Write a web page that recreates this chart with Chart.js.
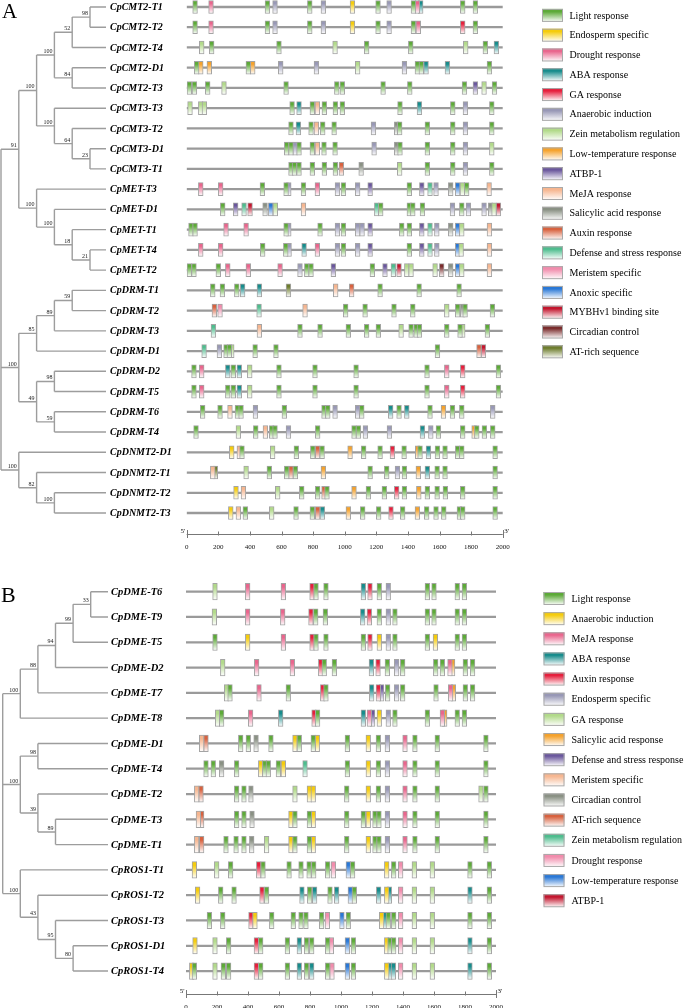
<!DOCTYPE html>
<html>
<head>
<meta charset="utf-8">
<script src="https://cdn.jsdelivr.net/npm/chart.js@4.4.1/dist/chart.umd.min.js"></script>
<style>
html, body { margin: 0; padding: 0; background: #fff; }
#wrap { position: relative; width: 685px; height: 1008px; overflow: hidden; }
canvas { position: absolute; left: 0; }
#chartA { top: 0; }
#chartB { top: 560px; }
</style>
</head>
<body>
<div id="wrap">
  <canvas id="chartA" width="685" height="560"></canvas>
  <canvas id="chartB" width="685" height="448"></canvas>
</div>
<script>
// promoter length and the scale ticks (bp)
const seqLen = 2000;
const tickVals = [0, 200, 400, 600, 800, 1000, 1200, 1400, 1600, 1800, 2000];
const boxBp = 30; // width of one cis-element box in bp

// ---- panel A ----
const genesA = ['CpCMT2-T1', 'CpCMT2-T2', 'CpCMT2-T4', 'CpCMT2-D1', 'CpCMT2-T3', 'CpCMT3-T3', 'CpCMT3-T2',
  'CpCMT3-D1', 'CpCMT3-T1', 'CpMET-T3', 'CpMET-D1', 'CpMET-T1', 'CpMET-T4', 'CpMET-T2', 'CpDRM-T1',
  'CpDRM-T2', 'CpDRM-T3', 'CpDRM-D1', 'CpDRM-D2', 'CpDRM-T5', 'CpDRM-T6', 'CpDRM-T4', 'CpDNMT2-D1',
  'CpDNMT2-T1', 'CpDNMT2-T2', 'CpDNMT2-T3'];

const typesA = ['Light response', 'Endosperm specific', 'Drought response', 'ABA response', 'GA response',
  'Anaerobic induction', 'Zein metabolism regulation', 'Low-temperature response', 'ATBP-1', 'MeJA response',
  'Salicylic acid response', 'Auxin response', 'Defense and stress response', 'Meristem specific',
  'Anoxic specific', 'MYBHv1 binding site', 'Circadian control', 'AT-rich sequence'];

// [position bp, element type index] per gene, same order as genesA
const sitesA = [
  [[53,0],[154,2],[511,0],[559,5],[779,0],[865,5],[1049,1],[1211,0],[1281,5],[1435,0],[1460,2],[1481,3],[1747,0],[1827,0]],
  [[53,0],[154,2],[511,0],[559,5],[779,0],[865,5],[1049,1],[1211,0],[1281,5],[1435,0],[1466,2],[1747,4],[1827,0]],
  [[95,6],[158,0],[584,0],[939,6],[1139,0],[1418,0],[1766,6],[1890,0],[1960,3]],
  [[63,0],[89,7],[143,7],[390,0],[418,7],[595,5],[821,5],[1082,6],[1378,5],[1460,0],[1485,0],[1515,3],[1650,3],[1916,0]],
  [[17,0],[49,0],[133,0],[236,6],[629,0],[950,0],[985,0],[1243,0],[1412,0],[1758,0],[1827,8],[1882,6],[1948,0]],
  [[21,6],[89,6],[112,6],[667,0],[711,3],[795,0],[827,9],[871,0],[941,0],[985,0],[1350,0],[1473,3],[1684,0],[1764,5],[1931,0]],
  [[660,0],[707,3],[787,0],[821,9],[861,0],[933,0],[1182,5],[1329,10],[1348,0],[1523,0],[1684,0],[1764,5],[1931,0]],
  [[633,0],[660,0],[686,5],[711,0],[795,0],[827,9],[869,0],[939,0],[1186,5],[1329,10],[1350,0],[1523,0],[1684,0],[1764,5],[1931,6]],
  [[660,0],[682,0],[711,0],[795,0],[871,0],[941,0],[979,11],[1104,10],[1348,6],[1523,0],[1684,0],[1764,5],[1931,0]],
  [[89,2],[215,2],[479,0],[629,0],[646,5],[739,0],[827,2],[954,5],[992,0],[1082,5],[1161,8],[1409,0],[1488,8],[1540,12],[1578,5],[1671,10],[1715,14],[1745,6],[1772,0],[1914,9]],
  [[228,0],[310,8],[363,12],[401,15],[496,10],[532,14],[561,6],[739,9],[1203,12],[1228,0],[1409,0],[1431,0],[1492,0],[1682,5],[1741,0],[1783,5],[1882,5],[1924,10],[1945,6],[1973,15]],
  [[27,0],[53,0],[249,2],[376,2],[629,0],[646,5],[844,0],[954,5],[992,0],[1082,5],[1110,5],[1161,8],[1361,0],[1409,0],[1488,8],[1540,12],[1583,5],[1671,10],[1715,14],[1741,6],[1916,9]],
  [[89,2],[215,2],[481,0],[627,0],[648,5],[743,3],[827,2],[954,5],[992,0],[1082,5],[1161,8],[1409,0],[1488,8],[1540,12],[1583,5],[1715,14],[1737,6],[1916,9]],
  [[17,0],[46,0],[200,0],[260,2],[390,2],[591,2],[717,5],[760,0],[787,0],[928,8],[1175,0],[1255,8],[1308,12],[1344,15],[1393,6],[1420,6],[1572,6],[1614,16],[1671,10],[1715,14],[1741,6],[1916,9]],
  [[165,0],[226,0],[317,0],[354,3],[460,3],[644,17],[943,9],[1044,11],[1224,0],[1471,0],[1724,0]],
  [[175,11],[211,13],[458,12],[749,9],[1006,0],[1129,0],[1312,0],[1431,0],[1646,6],[1715,0],[1747,10],[1762,0],[1935,0]],
  [[169,12],[460,9],[717,0],[844,0],[1023,0],[1139,0],[1213,0],[1357,6],[1420,0],[1452,0],[1473,0],[1646,0],[1730,0],[1747,6],[1903,0]],
  [[110,12],[207,5],[249,0],[270,0],[285,6],[433,0],[565,0],[1587,0],[1850,11],[1878,15]],
  [[46,0],[95,2],[260,3],[295,0],[333,3],[399,6],[584,0],[812,0],[1072,0],[1521,0],[1646,2],[1747,4],[1973,0]],
  [[46,0],[95,2],[260,0],[295,0],[333,3],[399,6],[584,0],[812,0],[1072,0],[1521,0],[1646,2],[1747,4],[1973,0]],
  [[101,0],[211,0],[274,9],[321,0],[344,0],[435,5],[618,0],[869,0],[893,0],[939,5],[1082,5],[1108,0],[1291,3],[1344,0],[1393,3],[1540,0],[1625,7],[1682,0],[1741,0],[1937,5]],
  [[59,0],[327,6],[437,0],[498,9],[538,0],[559,0],[644,5],[829,0],[1059,0],[1087,0],[1131,5],[1283,5],[1492,3],[1545,5],[1593,0],[1747,0],[1819,7],[1836,0],[1884,0],[1937,0]],
  [[285,1],[333,9],[350,0],[544,6],[694,0],[798,0],[829,11],[857,0],[1034,7],[1120,0],[1224,0],[1302,4],[1376,0],[1462,7],[1477,0],[1530,3],[1587,0],[1635,0],[1715,0],[1741,0],[1952,0]],
  [[165,9],[181,17],[376,6],[523,0],[633,0],[660,11],[688,0],[865,7],[1161,0],[1266,0],[1334,5],[1378,0],[1466,7],[1523,3],[1585,0],[1635,0],[1952,0]],
  [[312,1],[359,9],[576,6],[728,0],[829,0],[869,11],[888,0],[1059,7],[1150,0],[1251,0],[1329,4],[1378,0],[1469,7],[1523,0],[1585,0],[1637,0],[1747,0],[1952,0]],
  [[279,1],[327,9],[371,0],[538,6],[692,0],[795,0],[829,11],[859,3],[1023,7],[1114,0],[1215,0],[1293,4],[1367,0],[1460,7],[1519,0],[1578,0],[1627,0],[1726,0],[1747,0],[1952,0]]
];

// tree: [child, child, ..., bootstrap]; leaves are gene names
const treeA = [
  [
    [
      [[['CpCMT2-T1', 'CpCMT2-T2', 98], 'CpCMT2-T4', 52], ['CpCMT2-D1', 'CpCMT2-T3', 84], 100],
      ['CpCMT3-T3', ['CpCMT3-T2', ['CpCMT3-D1', 'CpCMT3-T1', 23], 64], 100],
      100
    ],
    ['CpMET-T3', ['CpMET-D1', ['CpMET-T1', ['CpMET-T4', 'CpMET-T2', 21], 18], 100], 100],
    91
  ],
  [
    [[['CpDRM-T1', 'CpDRM-T2', 59], 'CpDRM-T3', 89], 'CpDRM-D1', 85],
    [['CpDRM-D2', 'CpDRM-T5', 98], ['CpDRM-T6', 'CpDRM-T4', 59], 49],
    100
  ],
  ['CpDNMT2-D1', ['CpDNMT2-T1', ['CpDNMT2-T2', 'CpDNMT2-T3', 100], 82], 100],
  null
];

// ---- panel B ----
const genesB = ['CpDME-T6', 'CpDME-T9', 'CpDME-T5', 'CpDME-D2', 'CpDME-T7', 'CpDME-T8', 'CpDME-D1', 'CpDME-T4',
  'CpDME-T2', 'CpDME-T3', 'CpDME-T1', 'CpROS1-T1', 'CpROS1-T2', 'CpROS1-T3', 'CpROS1-D1', 'CpROS1-T4'];

const typesB = ['Light response', 'Anaerobic induction', 'MeJA response', 'ABA response', 'Auxin response',
  'Endosperm specific', 'GA response', 'Salicylic acid response', 'Defense and stress response',
  'Meristem specific', 'Circadian control', 'AT-rich sequence', 'Zein metabolism regulation',
  'Drought response', 'Low-temperature response', 'ATBP-1'];

const sitesB = [
  [[187,6],[398,2],[628,2],[813,4],[839,0],[903,0],[1144,3],[1187,4],[1247,0],[1305,5],[1557,0],[1600,0],[1750,0],[1796,0]],
  [[183,6],[398,2],[624,2],[806,4],[837,0],[899,0],[1140,3],[1183,4],[1247,0],[1305,5],[1348,0],[1557,0],[1600,0],[1750,0],[1796,0]],
  [[187,0],[398,1],[628,2],[813,4],[839,0],[903,0],[1144,0],[1187,4],[1247,1],[1305,5],[1348,0],[1557,0],[1609,1],[1750,0],[1796,0]],
  [[237,6],[456,2],[686,2],[869,4],[892,0],[957,0],[1196,3],[1239,4],[1299,0],[1359,5],[1398,0],[1611,0],[1654,0],[1703,2],[1720,7],[1802,0],[1849,0]],
  [[262,6],[284,0],[471,2],[660,0],[882,4],[903,0],[1198,3],[1241,4],[1262,8],[1301,0],[1359,5],[1398,0],[1613,0],[1707,2],[1725,7],[1802,0],[1849,0]],
  [[204,6],[230,0],[417,2],[611,3],[826,4],[849,0],[1144,3],[1183,2],[1204,8],[1247,1],[1305,5],[1348,0],[1557,0],[1654,2],[1669,7],[1750,0],[1796,0]],
  [[101,9],[129,11],[353,0],[402,0],[452,10],[548,0],[703,1],[731,0],[821,0],[847,1],[1041,0],[1176,1],[1241,0],[1299,5],[1413,2],[1477,0],[1621,0],[1935,0]],
  [[129,0],[176,0],[230,10],[327,0],[482,1],[508,0],[531,0],[596,0],[628,1],[768,12],[1041,0],[1176,1],[1241,0],[1299,5],[1413,2],[1477,0],[1621,0],[1935,0]],
  [[69,9],[97,11],[327,0],[374,0],[419,10],[703,6],[796,1],[821,1],[1037,0],[1176,1],[1241,0],[1299,5],[1413,2],[1477,0],[1621,0],[1903,6],[1935,0]],
  [[80,9],[101,11],[327,0],[374,0],[426,10],[677,1],[703,0],[796,0],[821,1],[1037,0],[1144,0],[1176,1],[1219,0],[1245,0],[1299,5],[1413,2],[1477,0],[1621,0],[1935,0]],
  [[69,9],[101,11],[258,0],[323,0],[374,0],[424,10],[520,6],[677,1],[703,0],[796,0],[821,1],[1037,0],[1176,1],[1219,0],[1245,0],[1299,5],[1413,2],[1477,0],[1621,0],[1935,0]],
  [[54,1],[198,6],[288,0],[469,4],[497,0],[665,0],[742,0],[794,0],[824,0],[914,0],[951,13],[1047,14],[1075,0],[1295,1],[1340,0],[1385,13],[1473,6],[1589,6],[1832,0],[1957,0]],
  [[75,1],[224,0],[310,0],[490,4],[520,0],[748,3],[798,0],[830,3],[929,0],[972,3],[1060,14],[1086,0],[1243,3],[1295,1],[1312,3],[1385,13],[1473,6],[1589,6],[1832,3],[1957,0]],
  [[151,0],[237,0],[419,4],[445,1],[553,0],[692,0],[742,0],[774,0],[875,0],[912,13],[1006,14],[1047,0],[1262,1],[1284,3],[1305,0],[1340,0],[1385,13],[1473,6],[1589,6],[1832,0],[1957,0]],
  [[58,1],[187,6],[275,0],[454,4],[482,0],[654,0],[731,3],[778,0],[811,0],[914,0],[938,13],[1041,14],[1080,0],[1295,1],[1316,0],[1340,0],[1385,13],[1473,6],[1589,6],[1832,3],[1957,0]],
  [[37,1],[54,0],[187,6],[241,0],[275,0],[454,4],[482,0],[654,0],[731,3],[778,0],[811,3],[914,0],[942,13],[1041,14],[1080,0],[1295,1],[1316,3],[1338,3],[1385,13],[1473,6],[1589,6],[1832,3],[1957,0]]
];

const treeB = [
  [[[[['CpDME-T6', 'CpDME-T9', 33], 'CpDME-T5', 99], 'CpDME-D2', 94], 'CpDME-T7', 88], 'CpDME-T8', 100],
  [['CpDME-D1', 'CpDME-T4', 98], ['CpDME-T2', ['CpDME-T3', 'CpDME-T1', 89], 39], 100],
  ['CpROS1-T1', ['CpROS1-T2', ['CpROS1-T3', ['CpROS1-D1', 'CpROS1-T4', 80], 95], 43], 100],
  null
];

// colour of each element type (same order in both legends)
const palette = ['#5daa38', '#f5cc0c', '#e9668d', '#178c8c', '#e61f3c', '#9898b6', '#b2da8a', '#f5a22c',
  '#6a579c', '#f6b690', '#8a9184', '#d8623f', '#4ebd8e', '#f18cac', '#2a78d6', '#c3162e', '#7a2c2c', '#6e7d2e'];

const serif = '"Liberation Serif", "DejaVu Serif", serif';

function fadeGradient(ctx, color, top, h) {
  const g = ctx.createLinearGradient(0, top, 0, top + h);
  g.addColorStop(0, color);
  g.addColorStop(0.22, color);
  g.addColorStop(1, '#ffffff');
  return g;
}

function makeDecor(genes, types, tree, lay) {
  return {
    id: 'decor',
    afterDraw(chart) {
      const ctx = chart.ctx;
      const xs = chart.scales.x, ys = chart.scales.y;
      ctx.save();

      // phylogenetic tree
      ctx.strokeStyle = '#9d9d9d';
      ctx.lineWidth = 1.4;
      ctx.fillStyle = '#222';
      ctx.font = lay.bootFont;
      ctx.textAlign = 'right';
      ctx.textBaseline = 'alphabetic';
      function drawNode(node, depth) {
        if (typeof node === 'string') {
          return { x: lay.leafX, y: ys.getPixelForValue(genes.indexOf(node)) };
        }
        const kids = node.slice(0, -1).map(k => drawNode(k, depth + 1));
        const x = lay.treeX + depth * lay.treeStep;
        const y0 = kids[0].y, y1 = kids[kids.length - 1].y;
        ctx.beginPath();
        ctx.moveTo(x, y0);
        ctx.lineTo(x, y1);
        kids.forEach(k => { ctx.moveTo(x, k.y); ctx.lineTo(k.x, k.y); });
        ctx.stroke();
        const mid = (y0 + y1) / 2;
        const boot = node[node.length - 1];
        if (boot !== null) ctx.fillText(String(boot), x - 2, mid - 2);
        return { x: x, y: mid };
      }
      drawNode(tree, 0);

      // gene names
      ctx.fillStyle = '#000';
      ctx.font = lay.geneFont;
      ctx.textAlign = 'left';
      ctx.textBaseline = 'middle';
      genes.forEach((g, i) => ctx.fillText(g, lay.labelX, ys.getPixelForValue(i) + 0.5));

      // scale bar
      const ay = chart.chartArea.bottom;
      const x0 = xs.getPixelForValue(0), x1 = xs.getPixelForValue(seqLen);
      ctx.strokeStyle = '#777';
      ctx.lineWidth = 1;
      ctx.beginPath();
      ctx.moveTo(x0, ay + 0.5);
      ctx.lineTo(x1, ay + 0.5);
      tickVals.forEach(v => {
        const px = Math.round(xs.getPixelForValue(v)) + 0.5;
        const end = v === 0 || v === seqLen;
        ctx.moveTo(px, ay - (end ? 4 : 2.5));
        ctx.lineTo(px, ay + (end ? 4 : 1.5));
      });
      ctx.stroke();
      ctx.fillStyle = '#111';
      ctx.font = '7px ' + serif;
      ctx.textAlign = 'center';
      tickVals.forEach(v => ctx.fillText(String(v), xs.getPixelForValue(v), ay + lay.tickDy));
      ctx.textAlign = 'right';
      ctx.fillText("5'", x0 - 1.5, ay - 3);
      ctx.textAlign = 'left';
      ctx.fillText("3'", x1 + 1.5, ay - 3);

      // legend
      ctx.font = '10px ' + serif;
      ctx.textBaseline = 'middle';
      types.forEach((t, k) => {
        const cy = lay.legY + k * lay.legStep;
        const top = cy - lay.legH / 2;
        ctx.fillStyle = fadeGradient(ctx, palette[k], top, lay.legH);
        ctx.fillRect(lay.legX, top, lay.legW, lay.legH);
        ctx.strokeStyle = '#a9a9a9';
        ctx.lineWidth = 1;
        ctx.strokeRect(lay.legX + 0.5, top + 0.5, lay.legW - 1, lay.legH - 1);
        ctx.fillStyle = '#000';
        ctx.fillText(t, lay.legTextX, cy + 0.5);
      });

      // panel letter
      ctx.font = lay.letterFont;
      ctx.textAlign = 'left';
      ctx.textBaseline = 'alphabetic';
      ctx.fillText(lay.letter, lay.letterX, lay.letterY);
      ctx.restore();
    }
  };
}

function makePanel(id, genes, sites, types, tree, lay) {
  const canvas = document.getElementById(id);
  const W = canvas.width, H = canvas.height;
  const datasets = types.map((name, t) => ({
    label: name,
    data: [],
    backgroundColor: c => {
      if (c.type !== 'data' || !c.raw) return palette[t];
      const yc = c.chart.scales.y.getPixelForValue(c.raw.y);
      if (!isFinite(yc)) return palette[t];
      return fadeGradient(c.chart.ctx, palette[t], yc - lay.boxH / 2, lay.boxH);
    },
    borderColor: '#a4a4a4',
    borderWidth: 1,
    borderSkipped: false,
    barThickness: lay.boxH,
    grouped: false,
    order: 1
  }));
  sites.forEach((row, i) => row.forEach(site => {
    const bp = site[0], t = site[1];
    datasets[t].data.push({ x: [bp - boxBp / 2, bp + boxBp / 2], y: i });
  }));
  // promoter backbones
  datasets.push({
    label: 'backbone',
    data: genes.map((g, i) => ({ x: [0, seqLen], y: i })),
    backgroundColor: '#9a9a9a',
    borderWidth: 0,
    barThickness: 1.6,
    grouped: false,
    order: 10
  });

  const yMin = -lay.firstRowY / lay.rowStep;
  const yMax = yMin + lay.axisY / lay.rowStep;

  return new Chart(canvas, {
    type: 'bar',
    data: { datasets: datasets },
    options: {
      indexAxis: 'y',
      responsive: false,
      animation: false,
      devicePixelRatio: 1,
      events: [],
      layout: { autoPadding: false, padding: { left: lay.plotLeft, right: W - lay.plotRight, top: 0, bottom: H - lay.axisY } },
      plugins: { legend: { display: false }, tooltip: { enabled: false } },
      scales: {
        x: { type: 'linear', min: 0, max: seqLen, display: false, bounds: 'data', offset: false },
        y: { type: 'linear', min: yMin, max: yMax, reverse: true, display: false, bounds: 'data', offset: false }
      }
    },
    plugins: [makeDecor(genes, types, tree, lay)]
  });
}

makePanel('chartA', genesA, sitesA, typesA, treeA, {
  plotLeft: 186.7, plotRight: 502.7, firstRowY: 7, rowStep: 20.24, axisY: 534, boxH: 13,
  treeX: 1, treeStep: 17.8, leafX: 106, labelX: 110,
  geneFont: 'bold italic 10px ' + serif, bootFont: '6px ' + serif,
  tickDy: 13,
  legX: 542, legW: 21, legH: 13, legY: 15.4, legStep: 19.79, legTextX: 569.5,
  letter: 'A', letterX: 2, letterY: 18, letterFont: '21px ' + serif
});

makePanel('chartB', genesB, sitesB, typesB, treeB, {
  plotLeft: 186, plotRight: 496, firstRowY: 31.7, rowStep: 25.29, axisY: 434, boxH: 16.5,
  treeX: 2.7, treeStep: 17.6, leafX: 108, labelX: 111,
  geneFont: 'bold italic 10.5px ' + serif, bootFont: '6px ' + serif,
  tickDy: 13,
  legX: 543.5, legW: 21, legH: 13, legY: 38.5, legStep: 20.15, legTextX: 571.5,
  letter: 'B', letterX: 1, letterY: 42, letterFont: '22px ' + serif
});
</script>
</body>
</html>
